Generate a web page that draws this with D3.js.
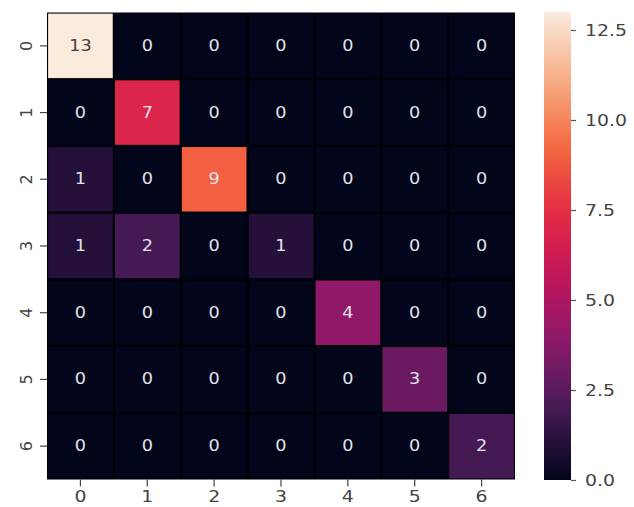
<!DOCTYPE html>
<html>
<head>
<meta charset="utf-8">
<script src="https://cdn.jsdelivr.net/npm/d3@7"></script>
<style>
  html, body { margin: 0; padding: 0; background: #fff; }
  svg text { font-family: "DejaVu Sans", sans-serif; }
</style>
</head>
<body>
<svg id="chart" width="634" height="507"></svg>
<script>
// Confusion matrix: rows are true classes, columns predicted classes
const rowLabels = ["0", "1", "2", "3", "4", "5", "6"];
const colLabels = ["0", "1", "2", "3", "4", "5", "6"];
const row0 = [13, 0, 0, 0, 0, 0, 0];
const row1 = [0, 7, 0, 0, 0, 0, 0];
const row2 = [1, 0, 9, 0, 0, 0, 0];
const row3 = [1, 2, 0, 1, 0, 0, 0];
const row4 = [0, 0, 0, 0, 4, 0, 0];
const row5 = [0, 0, 0, 0, 0, 3, 0];
const row6 = [0, 0, 0, 0, 0, 0, 2];
const matrix = [row0, row1, row2, row3, row4, row5, row6];
const colorbarTicks = [0, 2.5, 5, 7.5, 10, 12.5];

// "rocket"-style sequential palette
const rocketStops = ["#03051a", "#401a52", "#861a6a", "#c0145c", "#e42a44", "#f46a40", "#f6ae86", "#faebdd"];
const rocket = d3.piecewise(d3.interpolateRgb, rocketStops);

const svg = d3.select("#chart");
const plot = { left: 47, top: 12.5, right: 515, bottom: 479.5 };
const textStretch = 1.18;

const x = d3.scaleBand().domain(colLabels).range([plot.left, plot.right]);
const y = d3.scaleBand().domain(rowLabels).range([plot.top, plot.bottom]);

const vmax = d3.max(matrix.flat());
const color = d3.scaleSequential(rocket).domain([0, vmax]);

const cells = [];
matrix.forEach((row, i) => row.forEach((v, j) => cells.push({ r: rowLabels[i], c: colLabels[j], v })));

// backdrop so the thin seams between cells read dark
svg.append("rect")
  .attr("x", plot.left).attr("y", plot.top)
  .attr("width", plot.right - plot.left).attr("height", plot.bottom - plot.top)
  .attr("fill", "#010108");

const gap = 2.2;
svg.append("g").selectAll("rect")
  .data(cells).join("rect")
  .attr("x", d => x(d.c) + gap / 2)
  .attr("y", d => y(d.r) + gap / 2)
  .attr("width", x.bandwidth() - gap)
  .attr("height", y.bandwidth() - gap)
  .attr("fill", d => color(d.v));

// annotations: dark text on light cells, light text on dark cells
function luminance(c) {
  const rgb = d3.rgb(c);
  const f = v => { v /= 255; return v <= 0.03928 ? v / 12.92 : Math.pow((v + 0.055) / 1.055, 2.4); };
  return 0.2126 * f(rgb.r) + 0.7152 * f(rgb.g) + 0.0722 * f(rgb.b);
}
svg.append("g").selectAll("text")
  .data(cells).join("text")
  .attr("transform", d => `translate(${x(d.c) + x.bandwidth() / 2},${y(d.r) + y.bandwidth() / 2}) scale(${textStretch},1)`)
  .attr("text-anchor", "middle")
  .attr("dominant-baseline", "central")
  .attr("font-size", 15)
  .attr("fill", d => luminance(color(d.v)) > 0.408 ? "#444" : "#e2e2ea")
  .text(d => d.v);

// bottom axis
const xAxis = svg.append("g")
  .attr("transform", `translate(0,${plot.bottom})`)
  .call(d3.axisBottom(x).tickSize(7).tickPadding(4));
xAxis.select(".domain").remove();
xAxis.selectAll("line").attr("stroke", "#444").attr("stroke-width", 1.2);
xAxis.selectAll("text").attr("font-size", 16).attr("fill", "#444")
  .attr("transform", `scale(${textStretch},1)`)
  .style("font-family", "DejaVu Sans, sans-serif");

// left axis with vertical labels
const yAxis = svg.append("g")
  .attr("transform", `translate(${plot.left},0)`)
  .call(d3.axisLeft(y).tickSize(7).tickPadding(4));
yAxis.select(".domain").remove();
yAxis.selectAll("line").attr("stroke", "#444").attr("stroke-width", 1.2);
yAxis.selectAll("text")
  .attr("font-size", 16).attr("fill", "#444")
  .style("font-family", "DejaVu Sans, sans-serif")
  .attr("x", null).attr("dy", null)
  .attr("text-anchor", "middle")
  .attr("transform", "translate(-21,0) rotate(-90)")
  .attr("dominant-baseline", "central");

// colorbar
const cb = { left: 544, right: 571, top: 12, bottom: 480 };
const cbScale = d3.scaleLinear().domain([0, vmax]).range([cb.bottom, cb.top]);
const defs = svg.append("defs");
const grad = defs.append("linearGradient")
  .attr("id", "cbgrad").attr("x1", 0).attr("y1", 1).attr("x2", 0).attr("y2", 0);
d3.range(0, 1.0001, 0.05).forEach(t => {
  grad.append("stop").attr("offset", t).attr("stop-color", rocket(t));
});
svg.append("rect")
  .attr("x", cb.left).attr("y", cb.top)
  .attr("width", cb.right - cb.left).attr("height", cb.bottom - cb.top)
  .attr("fill", "url(#cbgrad)");

const cbAxis = svg.append("g")
  .attr("transform", `translate(${cb.right},0)`)
  .call(d3.axisRight(cbScale).tickValues(colorbarTicks).tickFormat(d3.format(".1f")).tickSize(5).tickPadding(8));
cbAxis.select(".domain").remove();
cbAxis.selectAll("line").attr("stroke", "#555").attr("stroke-width", 1.2);
cbAxis.selectAll("text").attr("font-size", 16).attr("fill", "#444")
  .attr("x", null)
  .attr("transform", `translate(14,0) scale(${textStretch},1)`)
  .style("font-family", "DejaVu Sans, sans-serif");
</script>
</body>
</html>
